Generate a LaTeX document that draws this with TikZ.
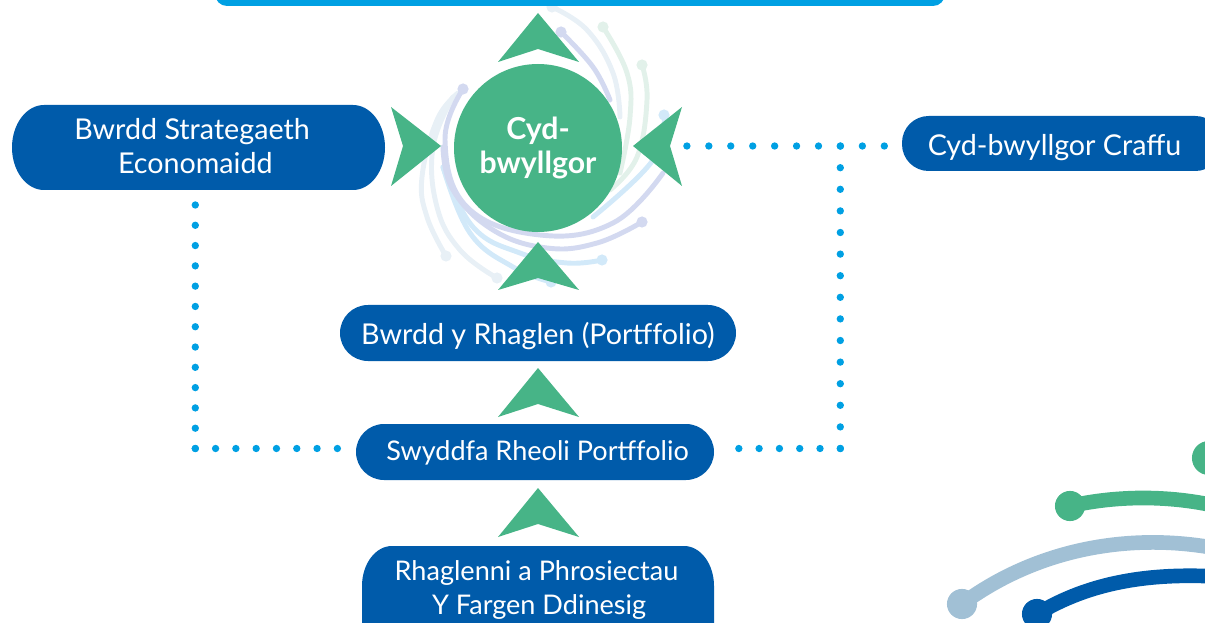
\documentclass[tikz,border=0pt]{standalone}
\usepackage{fontspec}
\setmainfont{Lato}
\definecolor{navy}{HTML}{005BAA}
\definecolor{cyanbar}{HTML}{00A0E3}
\definecolor{leaf}{HTML}{47B487}
\definecolor{lav}{HTML}{D3D9F0}
\definecolor{sky}{HTML}{D2E9F9}
\definecolor{pale}{HTML}{E8F0F6}
\definecolor{palegreen}{HTML}{E2F1EA}
\definecolor{steel}{HTML}{A1C0D5}
\tikzset{
 pill/.style={fill=navy,inner sep=0pt,rounded corners=#1},
 label big/.style={text=white,align=center,inner sep=0pt,font=\fontsize{21.5}{25}\selectfont},
 label small/.style={text=white,align=center,inner sep=0pt,font=\fontsize{20.3}{25.6}\selectfont},
 dots/.style={draw=cyanbar,line width=5.5pt,line cap=round,dash pattern=on 0pt off #1},
 dots/.default=15.22pt,
 chev/.style={fill=leaf,draw=none},
 swirl/.style={line width=3.7pt,line cap=round},
 arc deco/.style={line width=11pt},
}
\newcommand{\swirlpath}[3]{\draw[swirl,#1] plot[smooth,tension=0.7] coordinates {#2};\fill[#1] #3 circle (4.2pt);}
\begin{document}
\begin{tikzpicture}[x=0.75pt,y=-0.75pt]
\useasboundingbox (0,0) rectangle (1205,623);
\begin{scope}
\clip (0,0) rectangle (1205,623);
% swirl behind the committee circle
\swirlpath{pale}{(552,7) (587,30) (613,73) (620,117)}{(552,7)}
\swirlpath{palegreen}{(603,27) (627,73) (630,117) (620,173)}{(603,27)}
\swirlpath{palegreen}{(642,65) (647,100) (637,157) (610,190)}{(642,65)}
\swirlpath{pale}{(497,278) (460,250) (437,207) (433,147) (453,97)}{(497,278)}
\swirlpath{pale}{(446,256) (427,217) (422,177) (437,120) (458,93)}{(446,256)}
\swirlpath{sky}{(602,260) (567,263) (520,253) (473,227) (443,167)}{(602,260)}
\swirlpath{sky}{(551,282) (513,267) (470,233) (443,167)}{(551,282)}
\swirlpath{sky}{(664,115) (653,160) (593,217)}{(664,115)}
\swirlpath{lav}{(642,222) (597,243) (547,248) (493,230) (453,190) (443,147)}{(642,222)}
\swirlpath{lav}{(463,89) (445,140) (467,207) (540,235) (613,223) (663,173)}{(463,89)}
\swirlpath{lav}{(561,32) (593,67) (610,100)}{(561,32)}
% decorative arcs, lower right
\draw[arc deco,leaf] (1070,506) .. controls (1110,497) and (1165,493) .. (1225,508);
\fill[leaf] (1070,506) circle (11.3pt);
\fill[leaf] (1209,458) circle (12.8pt);
\draw[arc deco,steel] (962,604) .. controls (1035,550) and (1130,530) .. (1225,550);
\fill[steel] (962,604) circle (11.3pt);
\draw[arc deco,navy] (1037,614) .. controls (1090,582) and (1150,572) .. (1225,577);
\fill[navy] (1037,614) circle (11.3pt);
% top bar
\fill[cyanbar,rounded corners=9pt] (215,-30) rectangle (945,6);
% elliptical-cornered boxes
\fill[navy] (44,105) -- (353,105) arc[start angle=90,end angle=0,x radius=32,y radius=-42.5] -- (385,147.5) arc[start angle=0,end angle=-90,x radius=32,y radius=-42.5] -- (44,190) arc[start angle=-90,end angle=-180,x radius=32,y radius=-42.5] arc[start angle=180,end angle=90,x radius=32,y radius=-42.5] -- cycle;
\fill[navy] (392,546) -- (684,546) arc[start angle=90,end angle=0,x radius=30,y radius=-40] -- (714,640) -- (362,640) -- (362,586) arc[start angle=180,end angle=90,x radius=30,y radius=-40] -- cycle;
\end{scope}
% named nodes
\node[circle,fill=leaf,minimum size=126pt,inner sep=0pt] (cyd) at (538,148) {};
\node[text=white,align=center,inner sep=0pt,font=\fontsize{22.7}{25.5}\selectfont\bfseries] (cydtxt) at (538,147.5) {Cyd-\\bwyllgor};
\node[label big] (strattxt) at (192,146) {Bwrdd Strategaeth\\\hspace*{5pt}Economaidd};
\begin{scope}
\clip (0,0) rectangle (1205,623);
\node[pill=20pt,minimum width=240pt,minimum height=41.25pt] (craffu) at (1062,143.5) {};
\end{scope}
\node[label big] (craffutxt) at (1054.5,147.5) {Cyd-bwyllgor Craffu};
\node[label small] (rhagtxt) at (536.5,590) {Rhaglenni a Phrosiectau\\\hspace*{4pt}Y Fargen Ddinesig};
\node[pill=21pt,minimum width=297pt,minimum height=42pt] (bwrdd) at (538,333) {};
\node[label big] (bwrddtxt) at (538,336) {Bwrdd y Rhaglen (Portffolio)};
\node[pill=21pt,minimum width=268.5pt,minimum height=42pt] (swydd) at (535,452) {};
\node[label small] (swyddtxt) at (537.5,453) {Swyddfa Rheoli Portffolio};
% chevrons
\fill[chev] (538,13) -- (579,62) -- (538,49) -- (498,62) -- cycle;
\fill[chev] (441,146) -- (391,186) -- (403,146) -- (391,107) -- cycle;
\fill[chev] (633,146) -- (682,107) -- (670,146) -- (682,186) -- cycle;
\fill[chev] (538,242) -- (579,290) -- (538,278) -- (498,290) -- cycle;
\fill[chev] (538,368) -- (579,417) -- (538,404) -- (498,417) -- cycle;
\fill[chev] (538,488) -- (579,537) -- (538,524) -- (498,537) -- cycle;
% dotted connectors
\coordinate (sl) at (338,448.5);
\coordinate (sr) at (738.5,448.5);
\coordinate (elbowL) at (195.3,448.5);
\coordinate (elbowR) at (840.3,448.5);
\coordinate (junction) at (840.3,146);
\coordinate (st) at (195.3,204);
\coordinate (cl) at (884.3,146);
\coordinate (ar) at (686,146);
\draw[dots] (elbowL) -- (st);
\draw[dots] (elbowL) -- (sl);
\draw[dots] (elbowR) -- (sr);
\draw[dots=16.2pt] (elbowR) -- (junction);
\draw[dots=16.45pt] (cl) -- (ar);
\end{tikzpicture}
\end{document}
